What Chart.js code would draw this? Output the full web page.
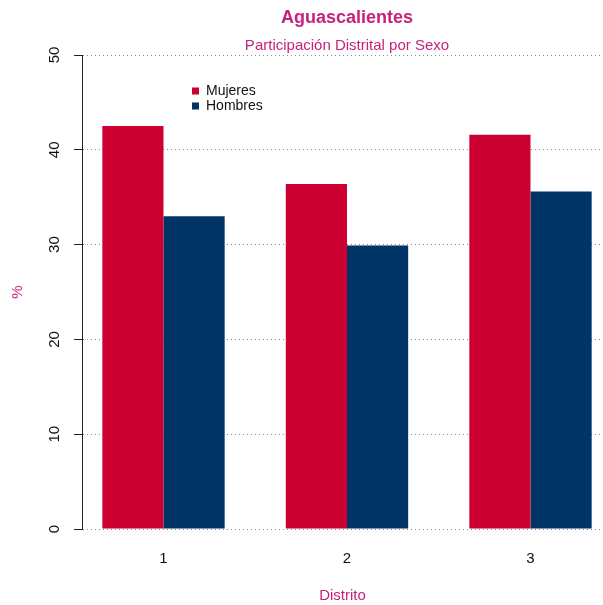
<!DOCTYPE html>
<html>
<head>
<meta charset="utf-8">
<script src="https://cdn.jsdelivr.net/npm/chart.js@4/dist/chart.umd.min.js"></script>
<style>
  body { margin: 0; background: #fff; }
  #wrap { width: 603px; height: 605px; }
</style>
</head>
<body>
<div id="wrap"><canvas id="chart" width="603" height="605"></canvas></div>
<script>
const distritos = [1, 2, 3];
const mujeres = [42.5, 36.4, 41.6];
const hombres = [33.0, 29.9, 35.6];
const seriesNames = ["Mujeres", "Hombres"];
const titleText = "Aguascalientes";
const subtitleText = "Participación Distrital por Sexo";

const pink = "#C8217B";
const fontFamily = "'Liberation Sans', Arial, Helvetica, sans-serif";

// titles centred on the plot region, as R does
const titlesPlugin = {
  id: "rTitles",
  afterDraw(chart) {
    const ctx = chart.ctx;
    const cx = chart.scales.x.getPixelForValue(2);
    ctx.save();
    ctx.fillStyle = pink;
    ctx.textAlign = "center";
    ctx.textBaseline = "middle";
    ctx.font = "bold 18px " + fontFamily;
    ctx.fillText(titleText, cx, 18);
    ctx.font = "15px " + fontFamily;
    ctx.fillText(subtitleText, cx, 46);
    ctx.restore();
  },
};

// plain legend inside the plot, no box
const legendPlugin = {
  id: "rLegend",
  afterDraw(chart) {
    const ctx = chart.ctx;
    ctx.save();
    ctx.font = "14px " + fontFamily;
    ctx.textBaseline = "middle";
    chart.data.datasets.forEach((ds, i) => {
      const y = 91 + i * 15;
      ctx.fillStyle = ds.backgroundColor;
      ctx.fillRect(192, y - 3.5, 7, 7);
      ctx.fillStyle = "#111";
      ctx.fillText(ds.label, 206, y + 0.5);
    });
    ctx.restore();
  },
};

new Chart(document.getElementById("chart"), {
  type: "bar",
  data: {
    datasets: [
      {
        label: seriesNames[0],
        data: distritos.map((d, i) => ({ x: d, y: mujeres[i] })),
        backgroundColor: "#CC0033",
      },
      {
        label: seriesNames[1],
        data: distritos.map((d, i) => ({ x: d, y: hombres[i] })),
        backgroundColor: "#003366",
      },
    ],
  },
  options: {
    responsive: false,
    animation: false,
    layout: { padding: { top: 55, left: 0, right: 0, bottom: 0 } },
    datasets: {
      bar: { categoryPercentage: 2 / 3, barPercentage: 1, borderWidth: 0 },
    },
    plugins: {
      legend: { display: false },
      title: { display: false },
      tooltip: { enabled: false },
    },
    scales: {
      x: {
        type: "linear",
        offset: false,
        min: 0.5559,
        max: 3.3951,
        afterBuildTicks: (scale) => {
          scale.ticks = distritos.map((v) => ({ value: v }));
        },
        afterFit: (scale) => {
          scale.height = 76;
        },
        grid: { display: false, drawTicks: false },
        border: { display: false },
        ticks: {
          padding: 21,
          color: "#111",
          font: { family: fontFamily, size: 15 },
        },
        title: {
          display: true,
          text: "Distrito",
          color: pink,
          font: { family: fontFamily, size: 15 },
          padding: { top: 0, bottom: 0 },
        },
      },
      y: {
        min: 0,
        max: 50,
        afterFit: (scale) => {
          scale.width = 82;
        },
        ticks: {
          stepSize: 10,
          minRotation: 90,
          maxRotation: 90,
          crossAlign: "center",
          padding: 11,
          color: "#111",
          font: { family: fontFamily, size: 15 },
        },
        grid: {
          color: "#8a8a8a",
          tickColor: "#222",
          tickLength: 8,
        },
        border: { display: true, color: "#222", width: 1, dash: [1, 3] },
        title: {
          display: true,
          text: "%",
          color: pink,
          font: { family: fontFamily, size: 15 },
          padding: { top: 9, bottom: 0 },
        },
      },
    },
  },
  plugins: [titlesPlugin, legendPlugin],
});
</script>
</body>
</html>
